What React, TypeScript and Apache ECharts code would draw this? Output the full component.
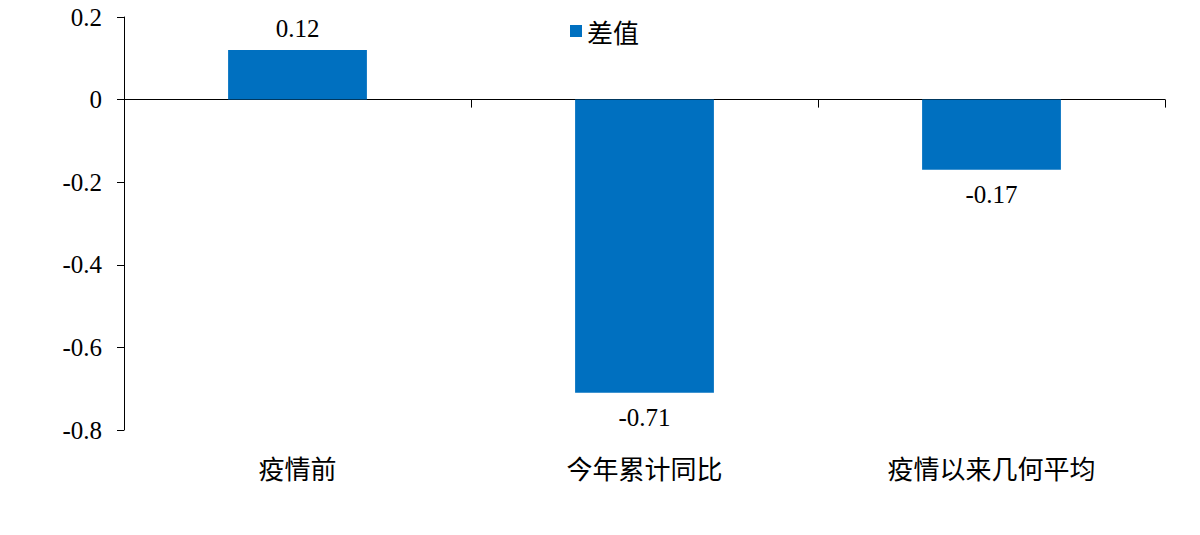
import React, { useEffect, useRef } from "react";
import * as echarts from "echarts";

const categories = ["疫情前", "今年累计同比", "疫情以来几何平均"];
const diffValues = [0.12, -0.71, -0.17];
const seriesName = "差值";
const yMin = -0.8;
const yMax = 0.2;
const yInterval = 0.2;

const SERIF = "'Times New Roman', 'Liberation Serif', serif";
const SANS = "'Microsoft YaHei', 'Noto Sans CJK SC', sans-serif";

export default function App() {
  const ref = useRef<HTMLDivElement>(null);
  useEffect(() => {
    if (!ref.current) return;
    const chart = echarts.init(ref.current, undefined, { renderer: "svg" });
    chart.setOption({
      animation: false,
      backgroundColor: "#ffffff",
      legend: {
        data: [seriesName],
        left: 565,
        top: 13,
        itemWidth: 12,
        itemHeight: 12,
        itemGap: 10,
        icon: "rect",
        textStyle: { fontFamily: SANS, fontSize: 26, color: "#000" },
      },
      grid: { left: 124, right: 35, top: 17, bottom: 105, containLabel: false },
      xAxis: [
        {
          type: "category",
          data: categories,
          position: "bottom",
          axisLine: { show: true, onZero: true, lineStyle: { color: "#000", width: 1 } },
          axisTick: { show: true, length: 8, lineStyle: { color: "#000" } },
          axisLabel: { show: false },
          splitLine: { show: false },
        },
        {
          type: "category",
          data: categories,
          position: "bottom",
          axisLine: { show: false, onZero: false },
          axisTick: { show: false },
          axisLabel: {
            show: true,
            margin: 24,
            fontFamily: SANS,
            fontSize: 26,
            color: "#000",
          },
          splitLine: { show: false },
        },
      ],
      yAxis: {
        type: "value",
        min: yMin,
        max: yMax,
        interval: yInterval,
        axisLine: { show: true, lineStyle: { color: "#000", width: 1 } },
        axisTick: { show: true, length: 7, lineStyle: { color: "#000" } },
        axisLabel: {
          margin: 22,
          fontFamily: SERIF,
          fontSize: 25,
          color: "#000",
        },
        splitLine: { show: false },
      },
      series: [
        {
          name: seriesName,
          type: "bar",
          xAxisIndex: 0,
          barWidth: "40%",
          itemStyle: { color: "#0070C0" },
          data: diffValues.map((v) => ({
            value: v,
            label: v < 0 ? { position: "bottom", distance: 12 } : { position: "top", distance: 9 },
          })),
          label: {
            show: true,
            fontFamily: SERIF,
            fontSize: 25,
            color: "#000",
          },
        },
      ],
    });
    return () => chart.dispose();
  }, []);
  return (
    <div
      ref={ref}
      style={{ position: "fixed", left: 0, top: 0, width: 1200, height: 535 }}
    />
  );
}
